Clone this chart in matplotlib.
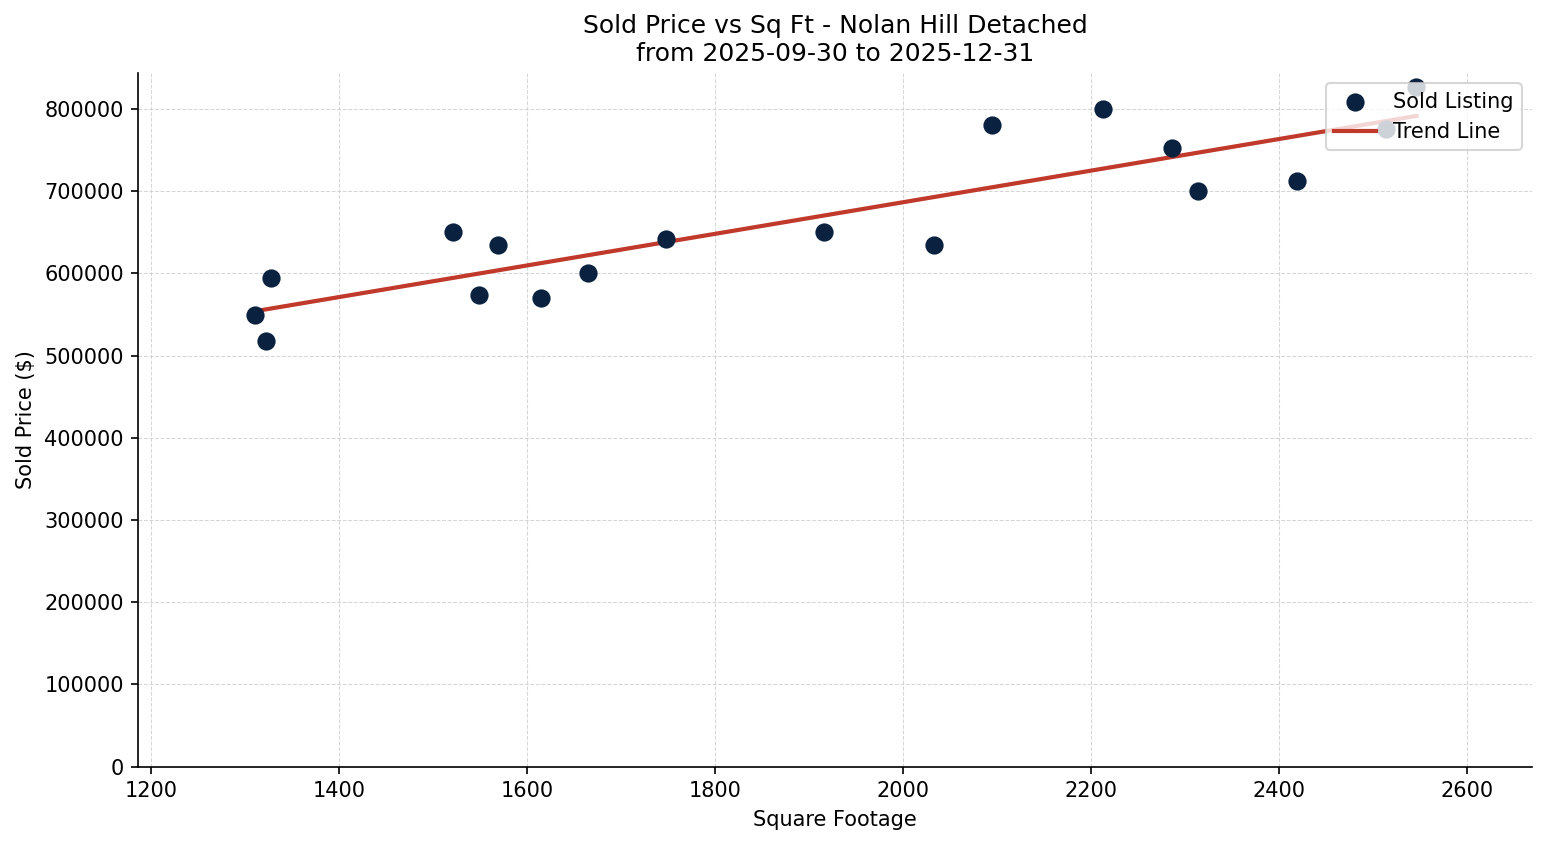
import numpy as np
import matplotlib
matplotlib.use("Agg")
import matplotlib.pyplot as plt

# sold listings
sqft = [1310, 1322, 1327, 1521, 1548, 1569, 1614, 1664, 1747, 1916,
        2033, 2094, 2213, 2286, 2314, 2419, 2514, 2546]
price = [550000, 518000, 595000, 650000, 574000, 635000, 570000, 600000, 642000, 650000,
         635000, 780000, 800000, 753000, 700000, 712000, 776000, 827000]

x = np.array(sqft)
y = np.array(price)

fig = plt.figure(figsize=(1547/150, 845/150), dpi=150)
ax = fig.add_axes([138.3/1547, 1 - 766.7/845, (1532 - 138.3)/1547, (766.7 - 73)/845])

ax.scatter(x, y, s=60, color='#0a2240', label='Sold Listing', zorder=3)

# linear trend
m, b = np.polyfit(x, y, 1)
xs = np.array([x.min(), x.max()])
ax.plot(xs, m*xs + b, color='#c0392b', linewidth=2, label='Trend Line', zorder=2)

ax.set_xlim(1186, 2669)
ax.set_ylim(0, 843800)
ax.set_title("Sold Price vs Sq Ft - Nolan Hill Detached\nfrom 2025-09-30 to 2025-12-31", fontsize=12)
ax.set_xlabel("Square Footage")
ax.set_ylabel("Sold Price ($)")
ax.grid(True, linestyle='--', linewidth=0.5, color='#cccccc', alpha=0.8)
ax.set_axisbelow(True)
ax.spines['top'].set_visible(False)
ax.spines['right'].set_visible(False)
ax.legend(loc='upper right')

fig.savefig("out.png", dpi=150)
